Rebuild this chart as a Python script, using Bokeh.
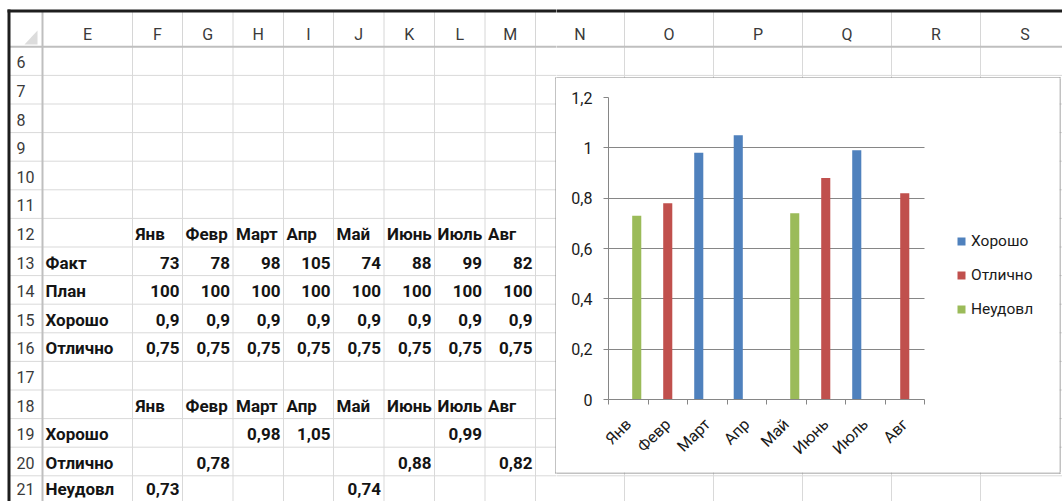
import numpy as np
from bokeh.plotting import figure
from bokeh.models import (Range1d, FixedTicker, CustomJSTickFormatter, Legend,
                          LegendItem, ColumnDataSource)
from bokeh.layouts import row, column
from bokeh.embed import file_html
from bokeh.resources import INLINE
from bokeh.core.properties import value

# ---------------- data ----------------
months = ["Янв", "Февр", "Март", "Апр", "Май", "Июнь", "Июль", "Авг"]
fact = [73, 78, 98, 105, 74, 88, 99, 82]
plan = [100, 100, 100, 100, 100, 100, 100, 100]
good_level = [0.9, 0.9, 0.9, 0.9, 0.9, 0.9, 0.9, 0.9]
excellent_level = [0.75, 0.75, 0.75, 0.75, 0.75, 0.75, 0.75, 0.75]

series_names = ["Хорошо", "Отлично", "Неудовл"]
good = [None, None, 0.98, 1.05, None, None, 0.99, None]
excellent = [None, 0.78, None, None, None, 0.88, None, 0.82]
poor = [0.73, None, None, None, 0.74, None, None, None]
series_colors = ["#4F81BD", "#C0504D", "#9BBB59"]

y_ticks = [0, 0.2, 0.4, 0.6, 0.8, 1.0, 1.2]
y_tick_labels = ["0", "0,2", "0,4", "0,6", "0,8", "1", "1,2"]

col_letters = ["E", "F", "G", "H", "I", "J", "K", "L", "M", "N", "O", "P", "Q", "R", "S"]
row_numbers = list(range(6, 22))

# ---------------- layout constants (pixels) ----------------
col_edges = [42, 132, 182, 232.5, 283, 333, 383.5, 434, 484.5, 535, 624, 713, 802, 891, 980, 1069]
HDR_TOP, HDR_BOT = 11, 46.3
ROW_H = 28.6
row_edges = [HDR_BOT + i * ROW_H for i in range(len(row_numbers) + 1)]
SHEET_RIGHT = 1069
SPLIT_X, RIGHT = 556, 1062
TOP, BOTTOM = 0, 501
CH_TOP, CH_BOT, CH_RIGHT = 78, 472, 1059
PLOT_L, PLOT_R, PLOT_T, PLOT_B = 608, 924, 97, 399
TEXT_DY = 13

FONT = "Roboto"
GRID = "#D9D9D9"
HDR_LINE = "#BFBFBF"
CELL_COLOR = "#141414"
HDR_TEXT = "#3A3A3A"
CHART_LINE = "#868686"


def fmt(v):
    if v is None:
        return ""
    return str(v).replace(".", ",")


def sheet_fig(x0, x1, y0, y1):
    p = figure(width=int(x1 - x0), height=int(y1 - y0),
               x_range=Range1d(x0, x1), y_range=Range1d(y1, y0),
               output_backend="svg", toolbar_location=None, min_border=0,
               x_axis_location=None, y_axis_location=None,
               outline_line_color=None, background_fill_color="white",
               border_fill_color="white", frame_align=False)
    p.grid.visible = False
    return p


def baseline(r):
    b = row_edges[row_numbers.index(r) + 1] - TEXT_DY
    return min(b, BOTTOM - 13)


def draw_texts(p, xs, ys, ts, bounds, **kw):
    x0, x1, y0, y1 = bounds
    keep = [(x, y, t) for x, y, t in zip(xs, ys, ts) if x0 <= x < x1 and y0 <= y <= y1 + 6]
    if keep:
        p.text(x=[k[0] for k in keep], y=[k[1] for k in keep], text=[k[2] for k in keep],
               text_font=value(FONT), text_baseline="alphabetic", **kw)


def draw_sheet(p, bounds):
    # body gridlines
    p.segment(x0=col_edges[1:], y0=HDR_BOT, x1=col_edges[1:], y1=row_edges[-1],
              line_color=GRID, line_width=1)
    p.segment(x0=8, y0=row_edges[1:], x1=SHEET_RIGHT, y1=row_edges[1:],
              line_color=GRID, line_width=1)
    # header separators
    p.segment(x0=col_edges[1:], y0=HDR_TOP, x1=col_edges[1:], y1=HDR_BOT,
              line_color="#D6D6D6", line_width=1)
    p.segment(x0=[8, 42], y0=[HDR_BOT, HDR_TOP], x1=[SHEET_RIGHT, 42], y1=[HDR_BOT, row_edges[-1]],
              line_color=HDR_LINE, line_width=2)
    # corner triangle
    p.patch(x=[24, 37, 37], y=[44, 44, 30], fill_color="#DCDCDC", line_color=None)
    # black frame of the screenshot
    p.segment(x0=[7, 8.5], y0=[10.5, 9], x1=[SHEET_RIGHT, 8.5], y1=[10.5, 510],
              line_color="#1E1E1E", line_width=3)

    # header texts
    cx = [(col_edges[i] + col_edges[i + 1]) / 2 for i in range(len(col_letters))]
    draw_texts(p, cx, [HDR_BOT - TEXT_DY + 1] * len(cx), col_letters, bounds,
               text_font_size="16px", text_align="center", text_color=HDR_TEXT)
    draw_texts(p, [16] * len(row_numbers), [baseline(r) for r in row_numbers],
               [str(r) for r in row_numbers], bounds,
               text_font_size="16px", text_align="left", text_color=HDR_TEXT)

    # cell contents
    left = {"x": [], "y": [], "t": []}
    right = {"x": [], "y": [], "t": []}

    def put_left(ci, r, t):
        left["x"].append(col_edges[ci] + 3)
        left["y"].append(baseline(r))
        left["t"].append(t)

    def put_right(ci, r, t):
        if t == "":
            return
        right["x"].append(col_edges[ci + 1] - 3)
        right["y"].append(baseline(r))
        right["t"].append(t)

    for r in (12, 18):
        for j, m in enumerate(months):
            put_left(1 + j, r, m)
    put_left(0, 13, "Факт")
    put_left(0, 14, "План")
    put_left(0, 15, "Хорошо")
    put_left(0, 16, "Отлично")
    put_left(0, 19, series_names[0])
    put_left(0, 20, series_names[1])
    put_left(0, 21, series_names[2])
    for j in range(len(months)):
        put_right(1 + j, 13, fmt(fact[j]))
        put_right(1 + j, 14, fmt(plan[j]))
        put_right(1 + j, 15, fmt(good_level[j]))
        put_right(1 + j, 16, fmt(excellent_level[j]))
        put_right(1 + j, 19, fmt(good[j]))
        put_right(1 + j, 20, fmt(excellent[j]))
        put_right(1 + j, 21, fmt(poor[j]))

    draw_texts(p, left["x"], left["y"], left["t"], bounds, text_font_style="bold",
               text_font_size="17px", text_align="left", text_color=CELL_COLOR)
    draw_texts(p, right["x"], right["y"], right["t"], bounds, text_font_style="bold",
               text_font_size="17px", text_align="right", text_color=CELL_COLOR)

    # chart area border
    p.segment(x0=[555.5, 555, 555, CH_RIGHT + 0.5], y0=[77, 77.5, 472.5, 77],
              x1=[555.5, CH_RIGHT + 1, CH_RIGHT + 1, CH_RIGHT + 0.5], y1=[473, 77.5, 472.5, 473],
              line_color=CHART_LINE, line_width=1)


# ---------------- spreadsheet pieces ----------------
b_L = (TOP, SPLIT_X, TOP, BOTTOM)
L = sheet_fig(*b_L)
draw_sheet(L, b_L)
b_TR = (SPLIT_X, RIGHT, TOP, CH_TOP)
TR = sheet_fig(*b_TR)
draw_sheet(TR, b_TR)
b_BR = (SPLIT_X, RIGHT, CH_BOT, BOTTOM)
BR = sheet_fig(*b_BR)
draw_sheet(BR, b_BR)
b_RS = (CH_RIGHT, RIGHT, CH_TOP, CH_BOT)
RS = sheet_fig(*b_RS)
draw_sheet(RS, b_RS)

# ---------------- chart ----------------
n = len(months)
centers = [i + 0.5 for i in range(n)]
bounds = [float(i) for i in range(n + 1)]
offsets = [-0.215, 0.0, 0.215]
x_end = n * (CH_RIGHT - PLOT_L) / (PLOT_R - PLOT_L)   # frame extends under the legend

C = figure(width=CH_RIGHT - SPLIT_X, height=CH_BOT - CH_TOP,
           x_range=Range1d(0, x_end), y_range=Range1d(0, 1.2),
           output_backend="svg", toolbar_location=None,
           min_border_left=PLOT_L - SPLIT_X, min_border_right=0,
           min_border_top=PLOT_T - CH_TOP, min_border_bottom=CH_BOT - PLOT_B,
           outline_line_color=None,
           background_fill_color="white", border_fill_color="white",
           frame_align=False)

items = []
for name, vals, off, col in zip(series_names, [good, excellent, poor], offsets, series_colors):
    src = ColumnDataSource(dict(x=[c + off for c in centers],
                                top=np.array([np.nan if v is None else v for v in vals], dtype=float)))
    r = C.vbar(x="x", top="top", bottom=0, width=0.23, source=src,
               fill_color=col, line_color=None)
    items.append(LegendItem(label=name, renderers=[r]))

C.xgrid.visible = False
C.ygrid.grid_line_color = CHART_LINE
C.ygrid.grid_line_width = 1
C.ygrid.cross_bounds = (0, n)

C.xaxis.bounds = (0, n)
C.xaxis.ticker = FixedTicker(ticks=centers, minor_ticks=bounds)
C.xaxis.formatter = CustomJSTickFormatter(args=dict(mlabels=months),
                                          code="return mlabels[Math.floor(tick)] || '';")
C.xaxis.major_label_orientation = np.pi / 4
C.xaxis.major_tick_out = 0
C.xaxis.major_tick_in = 0
C.xaxis.minor_tick_out = 5
C.xaxis.minor_tick_in = 0
C.xaxis.major_label_standoff = 17

C.yaxis.ticker = FixedTicker(ticks=y_ticks, minor_ticks=[])
C.yaxis.formatter = CustomJSTickFormatter(
    args=dict(yvals=y_ticks, ylabs=y_tick_labels),
    code="for (let i = 0; i < yvals.length; i++) { if (Math.abs(yvals[i] - tick) < 1e-9) return ylabs[i]; } return '';")
C.yaxis.major_tick_out = 5
C.yaxis.major_tick_in = 0
C.yaxis.minor_tick_out = 0
C.yaxis.minor_tick_in = 0
C.yaxis.major_label_standoff = 11

for ax in (C.xaxis[0], C.yaxis[0]):
    ax.axis_line_color = CHART_LINE
    ax.major_tick_line_color = CHART_LINE
    ax.minor_tick_line_color = CHART_LINE
    ax.major_label_text_font = FONT
    ax.major_label_text_font_size = "16px"
    ax.major_label_text_color = "#1A1A1A"

legend = Legend(items=items, location=(348, 80), orientation="vertical",
                glyph_width=10, glyph_height=10, label_standoff=5, spacing=14,
                label_height=20, padding=0, margin=0, border_line_color=None,
                background_fill_alpha=0, label_text_font=FONT,
                label_text_font_size="15.5px", label_text_color="#1A1A1A")
C.add_layout(legend)

layout = row(L, column(TR, row(C, RS, spacing=0), BR, spacing=0), spacing=0)
open("out.html", "w").write(file_html(layout, INLINE))
